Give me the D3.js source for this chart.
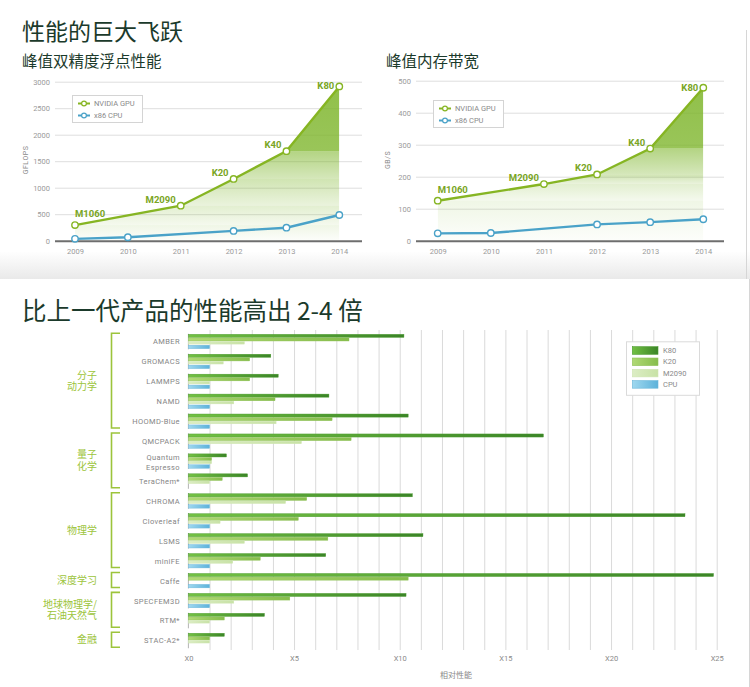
<!DOCTYPE html>
<html>
<head>
<meta charset="utf-8">
<script src="https://cdn.jsdelivr.net/npm/d3@7/dist/d3.min.js"></script>
<style>
  body { margin: 0; background: #fff; }
  svg { display: block; }
  text { font-family: Roboto, "Noto Sans", sans-serif; }
  .cjk { font-family: "Noto Sans CJK SC", sans-serif; }
</style>
</head>
<body>
<svg id="chart" width="750" height="687"></svg>
<script>

// ---- data ----
var years = [2009, 2010, 2011, 2012, 2013, 2014];
var gpuNames = ['M1060', 'M2090', 'K20', 'K40', 'K80'];
var gpuYears = [2009, 2011, 2012, 2013, 2014];
var cpuYears = [2009, 2010, 2012, 2013, 2014];

var flopsGpu = [295, 660, 1165, 1690, 2910];
var flopsCpu = [35, 65, 185, 245, 485];
var flopsTicks = [0, 500, 1000, 1500, 2000, 2500, 3000];

var bwGpu = [125, 177, 207, 288, 478];
var bwCpu = [23, 24, 51, 58, 67];
var bwTicks = [0, 100, 200, 300, 400, 500];

var apps = ['AMBER', 'GROMACS', 'LAMMPS', 'NAMD', 'HOOMD-Blue', 'QMCPACK', 'Quantum Espresso',
            'TeraChem*', 'CHROMA', 'Cloverleaf', 'LSMS', 'miniFE', 'Caffe', 'SPECFEM3D', 'RTM*', 'STAC-A2*'];
var k80   = [10.2, 3.9, 4.25, 6.65, 10.4, 16.8, 1.8, 2.8, 10.6, 23.5, 11.1, 6.5, 24.85, 10.3, 3.6, 1.7];
var k20   = [7.6, 2.9, 2.9, 4.1, 6.8, 7.7, 1.1, 1.6, 5.6, 5.2, 6.6, 3.4, 10.4, 4.8, 1.7, 1.0];
var m2090 = [2.65, 1.65, 1.0, 2.15, 4.15, 5.35, 1.1, 1.0, 4.6, 1.5, 2.65, 2.1, null, 2.15, 1.0, 1.0];
var cpu   = [1, 1, 1, 1, 1, 1, 1, null, 1, 1, 1, 1, 1, 1, null, null];
var seriesNames = ['K80', 'K20', 'M2090', 'CPU'];
var relTicks = [0, 5, 10, 15, 20, 25];

var groupNames = [['分子', '动力学'], ['量子', '化学'], ['物理学'], ['深度学习'], ['地球物理学/', '石油天然气'], ['金融']];
var groupFirst = ['AMBER', 'QMCPACK', 'CHROMA', 'Caffe', 'SPECFEM3D', 'STAC-A2*'];
var groupLast  = ['HOOMD-Blue', 'TeraChem*', 'miniFE', 'Caffe', 'RTM*', 'STAC-A2*'];

// ---- colours ----
var gpuColor = '#86b523';
var cpuColor = '#4aa2c8';
var labelGreen = '#79a524';
var titleColor = '#1b3a2b';
var barStops = [['#72c043', '#3b8527'], ['#b0d975', '#86bd4c'], ['#dcedc4', '#c8e2a6'], ['#9fd8ef', '#5db2da']];
var barStroke = ['#4a9a2e', '#8fc157', '#cfe5b2', '#6bb6d9'];

var svg = d3.select('#chart');
var defs = svg.append('defs');

// top panel fades to grey at its lower edge
var bg = defs.append('linearGradient').attr('id', 'topBg')
  .attr('x1', 0).attr('x2', 0).attr('y1', 0).attr('y2', 1);
bg.append('stop').attr('offset', 0.9).attr('stop-color', '#ffffff');
bg.append('stop').attr('offset', 1).attr('stop-color', '#e9e9e9');
svg.append('rect').attr('width', 750).attr('height', 279).attr('fill', 'url(#topBg)');
svg.append('line').attr('x1', 746.5).attr('x2', 746.5).attr('y1', 30).attr('y2', 279)
  .attr('stroke', '#d6d6d6');
svg.append('line').attr('x1', 749.5).attr('x2', 749.5).attr('y1', 279).attr('y2', 687)
  .attr('stroke', '#d6d6d6');

// green bands under the gpu line, darker the higher they sit
var bandOps = [[0.12, 0.02], [0.22, 0.08], [0.36, 0.16], [0.58, 0.32], [0.85, 0.78]];
bandOps.forEach(function(op, j) {
  var gr = defs.append('linearGradient').attr('id', 'band' + j)
    .attr('x1', 0).attr('x2', 0).attr('y1', 0).attr('y2', 1);
  gr.append('stop').attr('offset', 0).attr('stop-color', '#7db52a').attr('stop-opacity', op[0]);
  gr.append('stop').attr('offset', 1).attr('stop-color', '#7db52a').attr('stop-opacity', op[1]);
});

barStops.forEach(function(st, j) {
  var gr = defs.append('linearGradient').attr('id', 'bar' + j);
  gr.append('stop').attr('offset', 0).attr('stop-color', st[0]);
  gr.append('stop').attr('offset', 1).attr('stop-color', st[1]);
});

// titles
svg.append('text').attr('class', 'cjk').attr('x', 22).attr('y', 40)
  .attr('font-size', 23).attr('font-weight', 400).attr('fill', titleColor).text('性能的巨大飞跃');
svg.append('text').attr('class', 'cjk').attr('x', 22).attr('y', 320)
  .attr('font-size', 24.5).attr('font-weight', 400).attr('fill', titleColor).text('比上一代产品的性能高出 2-4 倍');

function lineChart(cfg) {
  var x = d3.scalePoint().domain(years).range([cfg.x0, cfg.x1]);
  var y = d3.scaleLinear().domain([0, cfg.max]).range([240.7, cfg.top]);
  var g = svg.append('g');

  g.append('text').attr('class', 'cjk').attr('x', cfg.titleX).attr('y', 67)
    .attr('font-size', 15.5).attr('font-weight', 400).attr('fill', titleColor).text(cfg.title);

  // grid + y labels
  var ya = g.append('g').attr('transform', 'translate(' + cfg.gx0 + ',0)')
    .call(d3.axisLeft(y).tickValues(cfg.ticks).tickSize(-(cfg.gx1 - cfg.gx0)).tickPadding(5)
      .tickFormat(d3.format('d')));
  ya.select('.domain').remove();
  ya.selectAll('line').attr('stroke', function(d) { return d === 0 ? '#6e6e6e' : '#dedede'; })
    .attr('stroke-width', function(d) { return d === 0 ? 2 : 1; });
  ya.selectAll('text').attr('font-family', 'Roboto').attr('font-size', 7.5).attr('fill', '#9a9a9a');

  var xa = g.append('g').attr('transform', 'translate(0,240.7)')
    .call(d3.axisBottom(x).tickSize(0).tickPadding(8));
  xa.select('.domain').remove();
  xa.selectAll('text').attr('font-family', 'Roboto').attr('font-size', 7.5).attr('fill', '#9a9a9a');

  g.append('text').attr('transform', 'translate(' + cfg.unitX + ',160) rotate(-90)')
    .attr('text-anchor', 'middle').attr('dy', '0.35em').attr('font-size', 7)
    .attr('letter-spacing', 0.5).attr('fill', '#8a8a8a').text(cfg.unit);

  var gpuPts = gpuYears.map(function(yr, i) { return { year: yr, v: cfg.gpu[i], name: gpuNames[i] }; });
  var cpuPts = cpuYears.map(function(yr, i) { return { year: yr, v: cfg.cpu[i] }; });

  // clip the bands to the area under the gpu line
  var clipId = 'clip' + cfg.id;
  defs.append('clipPath').attr('id', clipId).append('path')
    .attr('d', d3.area().x(function(d) { return x(d.year); }).y0(y(0)).y1(function(d) { return y(d.v); })(gpuPts));
  var thr = [0].concat(cfg.gpu);
  g.selectAll('rect.band').data(d3.range(5)).enter().append('rect')
    .attr('x', x(2009)).attr('width', x(2014) - x(2009))
    .attr('y', function(j) { return y(thr[j + 1]); })
    .attr('height', function(j) { return y(thr[j]) - y(thr[j + 1]); })
    .attr('fill', function(j) { return 'url(#band' + j + ')'; })
    .attr('clip-path', 'url(#' + clipId + ')');

  var line = d3.line().x(function(d) { return x(d.year); }).y(function(d) { return y(d.v); });
  [[cpuPts, cpuColor], [gpuPts, gpuColor]].forEach(function(s) {
    g.append('path').attr('d', line(s[0])).attr('fill', 'none')
      .attr('stroke', s[1]).attr('stroke-width', 2.4);
    g.selectAll(null).data(s[0]).enter().append('circle')
      .attr('cx', function(d) { return x(d.year); }).attr('cy', function(d) { return y(d.v); })
      .attr('r', 3.2).attr('fill', '#fff').attr('stroke', s[1]).attr('stroke-width', 1.4);
  });

  // gpu model names next to the points
  g.selectAll(null).data(gpuPts).enter().append('text')
    .attr('x', function(d, i) { return i === 0 ? x(d.year) : x(d.year) - 5; })
    .attr('y', function(d, i) { return y(d.v) + (i === 0 ? -8 : i === gpuPts.length - 1 ? 3 : -3); })
    .attr('text-anchor', function(d, i) { return i === 0 ? 'start' : 'end'; })
    .attr('font-size', 9.5).attr('font-weight', 700).attr('fill', labelGreen)
    .text(function(d) { return d.name; });

  // legend
  var lg = g.append('g').attr('transform', 'translate(' + cfg.lx + ',' + cfg.ly + ')');
  lg.append('rect').attr('x', 0.5).attr('y', 0.5).attr('width', 70).attr('height', 27)
    .attr('fill', '#fff').attr('stroke', '#d4d4d4');
  [['NVIDIA GPU', gpuColor], ['x86 CPU', cpuColor]].forEach(function(it, i) {
    var yy = 8.5 + i * 12;
    lg.append('line').attr('x1', 6).attr('x2', 18).attr('y1', yy).attr('y2', yy)
      .attr('stroke', it[1]).attr('stroke-width', 2);
    lg.append('circle').attr('cx', 12).attr('cy', yy).attr('r', 2.4)
      .attr('fill', '#fff').attr('stroke', it[1]).attr('stroke-width', 1.2);
    lg.append('text').attr('x', 22).attr('y', yy).attr('dy', '0.35em')
      .attr('font-size', 7.5).attr('fill', '#8a8a8a').text(it[0]);
  });
}

lineChart({ id: 'f', title: '峰值双精度浮点性能', titleX: 22, x0: 75, x1: 339.3, gx0: 55, gx1: 362,
  top: 81.7, max: 3000, ticks: flopsTicks, gpu: flopsGpu, cpu: flopsCpu, unit: 'GFLOPS', unitX: 26, lx: 72, ly: 95 });
lineChart({ id: 'b', title: '峰值内存带宽', titleX: 386, x0: 437.7, x1: 703.3, gx0: 416, gx1: 724,
  top: 80.7, max: 500, ticks: bwTicks, gpu: bwGpu, cpu: bwCpu, unit: 'GB/S', unitX: 388, lx: 433, ly: 100 });

// ---- relative performance bars ----
var xb = d3.scaleLinear().domain([0, 25]).range([188.4, 716.7]);
var yb = d3.scaleBand().domain(apps).range([334.3, 334.3 + 16 * 19.93]);
var seriesVals = [k80, k20, m2090, cpu];
var barOff = [0, 3.6, 7.2, 10.9];
var barH = [3.1, 3.1, 2.6, 3.5];

var grid = svg.append('g').attr('transform', 'translate(0,650)')
  .call(d3.axisTop(xb).tickValues(d3.range(1, 26)).tickSize(320).tickFormat(''));
grid.select('.domain').remove();
grid.selectAll('line').attr('stroke', '#dadada');

var xax = svg.append('g').attr('transform', 'translate(0,650)')
  .call(d3.axisBottom(xb).tickValues(relTicks).tickSize(0).tickPadding(6)
    .tickFormat(function(d) { return 'X' + d; }));
xax.select('.domain').remove();
xax.selectAll('text').attr('font-family', 'Roboto').attr('font-size', 7.5).attr('fill', '#8a8a8a');

svg.append('text').attr('class', 'cjk').attr('x', 456).attr('y', 678).attr('text-anchor', 'middle')
  .attr('font-size', 8).attr('fill', '#8a8a8a').text('相对性能');

// small base tick at x0 for each row
svg.selectAll('line.rowtick').data(apps).enter().append('line')
  .attr('x1', xb(0)).attr('x2', xb(0))
  .attr('y1', function(d) { return yb(d) - 0.5; })
  .attr('y2', function(d) { return yb(d) + 15; })
  .attr('stroke', '#b5b5b5');

seriesVals.forEach(function(vals, s) {
  svg.selectAll(null).data(apps.filter(function(a, i) { return vals[i] != null; })).enter().append('rect')
    .attr('x', xb(0))
    .attr('y', function(a) { return yb(a) + barOff[s]; })
    .attr('width', function(a) { return xb(vals[apps.indexOf(a)]) - xb(0); })
    .attr('height', barH[s])
    .attr('fill', 'url(#bar' + s + ')')
    .attr('stroke', barStroke[s]).attr('stroke-width', 0.4);
});

// app names
svg.selectAll(null).data(apps).enter().append('text')
  .attr('x', 180).attr('text-anchor', 'end')
  .attr('font-size', 7.5).attr('letter-spacing', 0.4).attr('fill', '#858585')
  .each(function(a) {
    var words = a === 'Quantum Espresso' ? ['Quantum', 'Espresso'] : [a];
    var t = d3.select(this);
    words.forEach(function(w, k) {
      var cy = words.length === 1 ? yb(a) + 7.5 : yb(a) + 3 + k * 10;
      t.append('tspan').attr('x', 180).attr('y', cy).attr('dy', '0.35em').text(w);
    });
  });

// group brackets and names (two-line names go in one text element)
groupNames.forEach(function(names, i) {
  var top = yb(groupFirst[i]) - 1;
  var bot = yb(groupLast[i]) + 14;
  svg.append('path')
    .attr('d', 'M120,' + top + 'H111.5V' + bot + 'H120')
    .attr('fill', 'none').attr('stroke', '#9cc43b').attr('stroke-width', 1.6);
  var mid = (top + bot) / 2;
  var t = svg.append('text').attr('class', 'cjk').attr('text-anchor', 'end')
    .attr('font-size', 10).attr('fill', '#9cc43b');
  names.forEach(function(n, k) {
    t.append('tspan').attr('x', 97)
      .attr('y', mid + (k - (names.length - 1) / 2) * 11.5).attr('dy', '0.36em').text(n);
  });
});

// legend of the bars
var bl = svg.append('g').attr('transform', 'translate(626,341.3)');
bl.append('rect').attr('x', 0.5).attr('y', 0.5).attr('width', 73).attr('height', 53.5)
  .attr('fill', '#fff').attr('stroke', '#dadada');
seriesNames.forEach(function(n, s) {
  var yy = 5.4 + s * 11.3;
  bl.append('rect').attr('x', 6.3).attr('y', yy).attr('width', 25.7).attr('height', 7.6)
    .attr('fill', 'url(#bar' + s + ')').attr('stroke', barStroke[s]).attr('stroke-width', 0.6);
  bl.append('text').attr('x', 37).attr('y', yy + 3.8).attr('dy', '0.35em')
    .attr('font-size', 7.5).attr('fill', '#8a8a8a').text(n);
});

</script>
</body>
</html>
